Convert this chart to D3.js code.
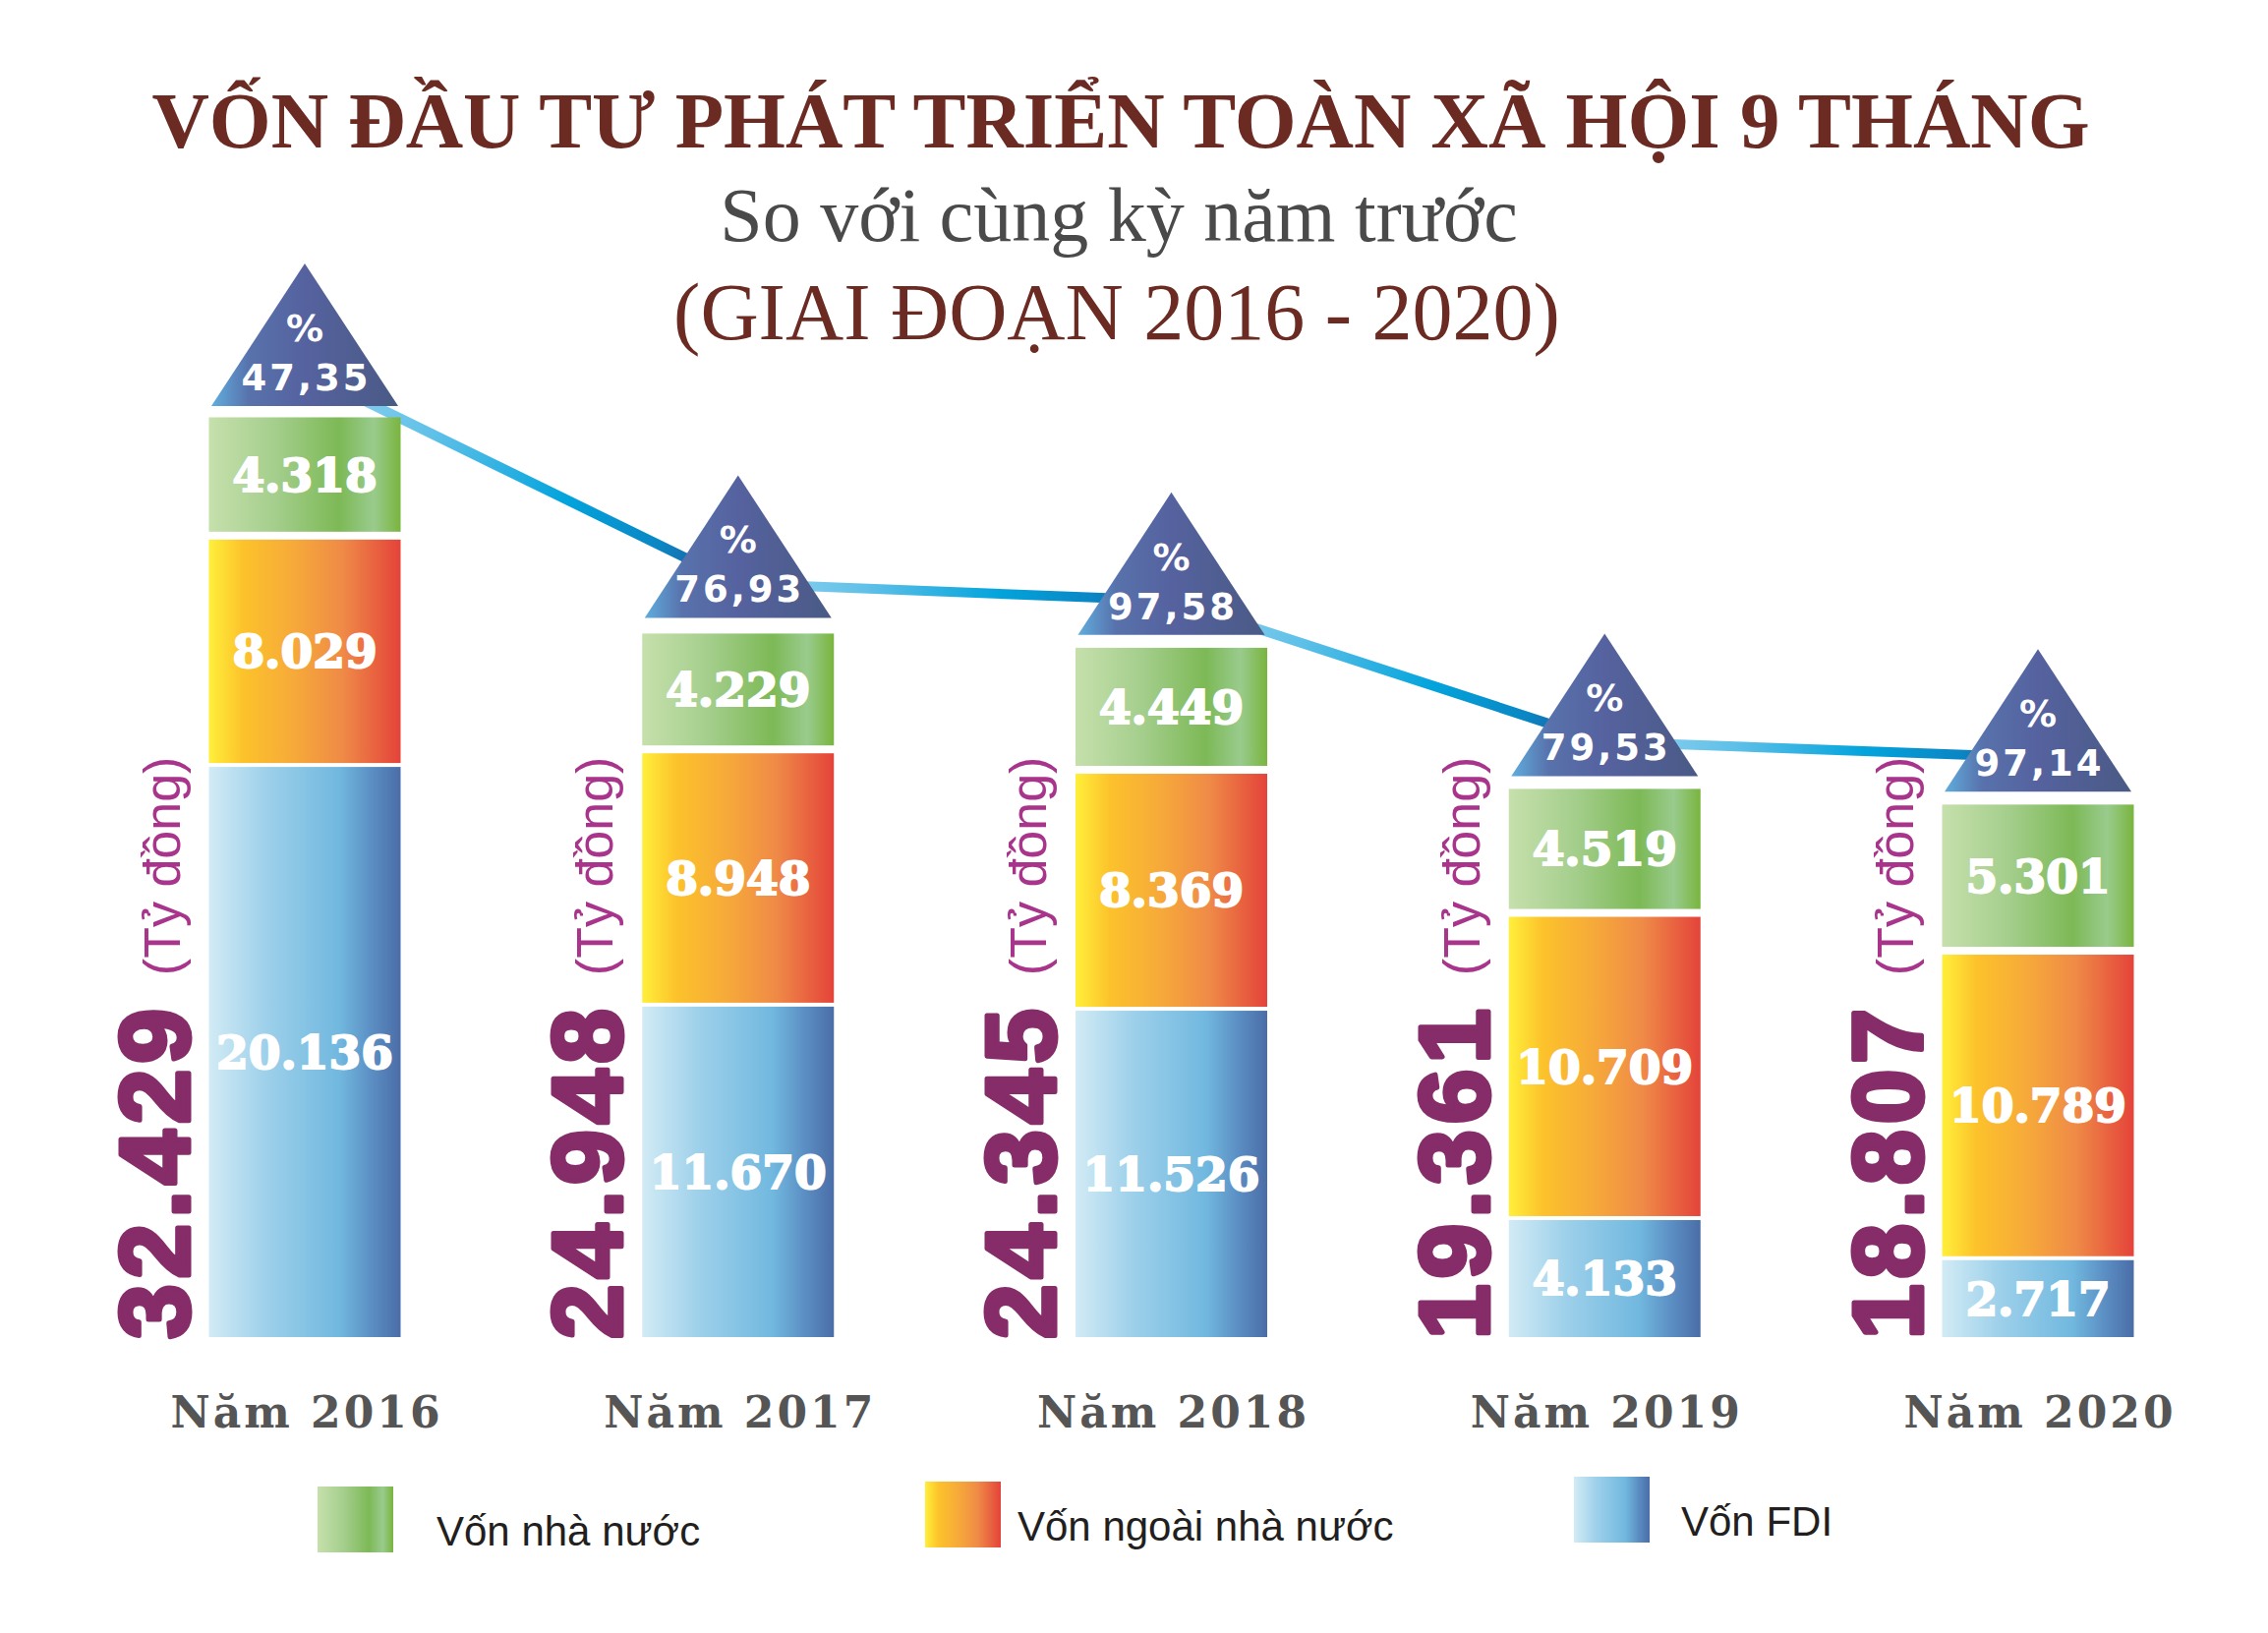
<!DOCTYPE html>
<html>
<head>
<meta charset="utf-8">
<script src="https://cdn.jsdelivr.net/npm/d3@7"></script>
<style>
  html, body { margin: 0; padding: 0; background: #fff; }
  svg { display: block; }
</style>
</head>
<body>
<svg id="chart"></svg>
<script>
// data (tỷ đồng)
const years = ["Năm 2016", "Năm 2017", "Năm 2018", "Năm 2019", "Năm 2020"];
const stateCapital = [4318, 4229, 4449, 4519, 5301];
const nonStateCapital = [8029, 8948, 8369, 10709, 10789];
const fdiCapital = [20136, 11670, 11526, 4133, 2717];
const totals = [32429, 24948, 24345, 19361, 18807];
const growthPct = [47.35, 76.93, 97.58, 79.53, 97.14];
const seriesKeys = ["fdi", "nonState", "state"];
const seriesNames = ["Vốn nhà nước", "Vốn ngoài nhà nước", "Vốn FDI"];
const unitLabel = "(Tỷ đồng)";

const titleText = "VỐN ĐẦU TƯ PHÁT TRIỂN TOÀN XÃ HỘI 9 THÁNG";
const subtitleText = "So với cùng kỳ năm trước";
const periodText = "(GIAI ĐOẠN 2016 - 2020)";

const W = 2307, H = 1661;
const baseY = 1360;
const barW = 195;

const vi = d3.formatLocale({ decimal: ",", thousands: ".", grouping: [3], currency: ["", " đ"] });
const fmtInt = vi.format(",d");
const fmtPct = vi.format(",.2f");

const table = years.map((yr, i) => ({
    year: yr,
    state: stateCapital[i],
    nonState: nonStateCapital[i],
    fdi: fdiCapital[i],
    total: totals[i],
    pct: growthPct[i]
}));

const svg = d3.select("#chart").attr("width", W).attr("height", H);
svg.append("rect").attr("width", W).attr("height", H).attr("fill", "#fff");

const defs = svg.append("defs");

// horizontal gradients for the three series + the triangles
const gradStops = {
    state: [[0, "#c6e0ac"], [0.35, "#a4ce8c"], [0.68, "#7db956"], [0.86, "#99cb8d"], [1, "#79b53e"]],
    nonState: [[0, "#ffef3a"], [0.18, "#fcc22b"], [0.45, "#f6a93a"], [0.7, "#ef8a47"], [1, "#e4433a"]],
    fdi: [[0, "#d2ebf5"], [0.3, "#9dd0ea"], [0.68, "#71b8df"], [0.85, "#5b8ec3"], [1, "#4a6da7"]],
    tri: [[0, "#60addd"], [0.2, "#5872ac"], [0.5, "#55629f"], [1, "#4a5a85"]]
};
Object.keys(gradStops).forEach(k => {
    const g = defs.append("linearGradient")
        .attr("id", "grad-" + k)
        .attr("x1", "0%").attr("y1", "0%").attr("x2", "100%").attr("y2", "0%");
    gradStops[k].forEach(s => g.append("stop").attr("offset", s[0]).attr("stop-color", s[1]));
});

// scales
const x = d3.scalePoint().domain(years).range([310, 2073]);
const y = d3.scaleLinear().domain([0, 34000]).range([baseY, baseY - 34000 * 0.0288]);

const stacked = d3.stack().keys(seriesKeys)(table);

// ---- titles
svg.append("text")
    .attr("x", 1140).attr("y", 150)
    .attr("text-anchor", "middle")
    .attr("font-family", "Liberation Serif, Times New Roman, serif")
    .attr("font-weight", "bold")
    .attr("font-size", 80)
    .attr("fill", "#6b2a22")
    .attr("textLength", 1971)
    .attr("lengthAdjust", "spacingAndGlyphs")
    .text(titleText);

svg.append("text")
    .attr("x", 1138).attr("y", 245)
    .attr("text-anchor", "middle")
    .attr("font-family", "Liberation Serif, Times New Roman, serif")
    .attr("font-size", 78)
    .attr("fill", "#4a4a4a")
    .text(subtitleText);

svg.append("text")
    .attr("x", 1136).attr("y", 345)
    .attr("text-anchor", "middle")
    .attr("font-family", "Liberation Serif, Times New Roman, serif")
    .attr("font-size", 82)
    .attr("fill", "#6b2a22")
    .text(periodText);

// ---- triangle geometry
const triGap = 13, triH = 145, triW = 190;
const triBase = d => y(d.total) - triGap;

// ---- connecting line (drawn first so triangles sit on top)
const linePts = table.map(d => [x(d.year), triBase(d) - 35]);
const lineG = svg.append("g").attr("class", "trend");
d3.pairs(linePts).forEach((p, i) => {
    const gid = "line-grad-" + i;
    const lg = defs.append("linearGradient")
        .attr("id", gid)
        .attr("gradientUnits", "userSpaceOnUse")
        .attr("x1", p[0][0]).attr("y1", p[0][1])
        .attr("x2", p[1][0]).attr("y2", p[1][1]);
    [[0, "#9ad5f0"], [0.3, "#5fc0e8"], [0.6, "#03a4dc"], [0.82, "#0a86c4"], [1, "#2b4a8c"]]
        .forEach(s => lg.append("stop").attr("offset", s[0]).attr("stop-color", s[1]));
    lineG.append("path")
        .attr("d", d3.line()(p))
        .attr("fill", "none")
        .attr("stroke", `url(#${gid})`)
        .attr("stroke-width", 10)
        .attr("stroke-linecap", "round");
});

// ---- stacked bars (white gap under each upper segment)
const segGaps = { fdi: 0, nonState: 4, state: 8 };
const barsG = svg.append("g").attr("class", "bars");
stacked.forEach(layer => {
    const key = layer.key;
    const gap = segGaps[key];
    const g = barsG.append("g").attr("class", "series-" + key);
    g.selectAll("rect")
        .data(layer)
        .join("rect")
        .attr("x", d => x(d.data.year) - barW / 2)
        .attr("y", d => y(d[1]))
        .attr("width", barW)
        .attr("height", d => y(d[0]) - y(d[1]) - gap)
        .attr("fill", `url(#grad-${key})`);

    g.selectAll("text")
        .data(layer)
        .join("text")
        .attr("x", d => x(d.data.year))
        .attr("y", d => (y(d[1]) + y(d[0]) - gap) / 2)
        .attr("dy", "0.36em")
        .attr("text-anchor", "middle")
        .attr("font-family", "DejaVu Serif, serif")
        .attr("font-weight", "bold")
        .attr("font-size", 47)
        .attr("fill", "#fff")
        .attr("stroke", "#fff")
        .attr("stroke-width", 2)
        .text(d => fmtInt(d.data[key]));
});

// ---- triangles with growth %
const triG = svg.append("g").attr("class", "triangles")
    .selectAll("g")
    .data(table)
    .join("g")
    .attr("transform", d => `translate(${x(d.year)},${triBase(d)})`);

triG.append("path")
    .attr("d", `M${-triW / 2},0L0,${-triH}L${triW / 2},0Z`)
    .attr("fill", "url(#grad-tri)");

triG.append("text")
    .attr("y", -66)
    .attr("text-anchor", "middle")
    .attr("font-family", "DejaVu Sans, sans-serif")
    .attr("font-weight", "bold")
    .attr("font-size", 38)
    .attr("fill", "#fff")
    .text("%");

triG.append("text")
    .attr("x", 1.5)
    .attr("y", -16)
    .attr("text-anchor", "middle")
    .attr("font-family", "DejaVu Sans, sans-serif")
    .attr("font-weight", "bold")
    .attr("font-size", 37)
    .attr("letter-spacing", 3)
    .attr("fill", "#fff")
    .text(d => fmtPct(d.pct));

// ---- vertical totals + unit
const totalG = svg.append("g").attr("class", "totals")
    .selectAll("g")
    .data(table)
    .join("g");

totalG.append("text")
    .attr("class", "total")
    .attr("transform", d => `translate(${x(d.year) - barW / 2 - 21},${baseY + 2}) rotate(-90)`)
    .attr("font-family", "Liberation Sans, Arial, sans-serif")
    .attr("font-weight", "bold")
    .attr("font-size", 100)
    .attr("letter-spacing", 6)
    .attr("fill", "#862c68")
    .attr("stroke", "#862c68")
    .attr("stroke-width", 5)
    .attr("stroke-linejoin", "round")
    .text(d => fmtInt(d.total));

totalG.each(function(d) {
    const g = d3.select(this);
    const len = g.select("text.total").node().getComputedTextLength();
    g.append("text")
        .attr("transform", `translate(${x(d.year) - barW / 2 - 30},${baseY + 2 - len - 28}) rotate(-90)`)
        .attr("font-family", "Liberation Sans, Arial, sans-serif")
        .attr("font-size", 52)
        .attr("fill", "#a8358b")
        .text(unitLabel);
});

// ---- year labels
svg.append("g").attr("class", "years")
    .selectAll("text")
    .data(table)
    .join("text")
    .attr("x", d => x(d.year) + 2)
    .attr("y", 1452)
    .attr("text-anchor", "middle")
    .attr("font-family", "DejaVu Serif, serif")
    .attr("font-weight", "bold")
    .attr("font-size", 44)
    .attr("letter-spacing", 3)
    .attr("fill", "#555555")
    .text(d => d.year);

// ---- legend
const legendKeys = ["state", "nonState", "fdi"];
const legendX = d3.scaleOrdinal().domain(legendKeys).range([323, 941, 1601]);
const legendTextDx = d3.scaleOrdinal().domain(legendKeys).range([121, 94, 109]);
const legend = svg.append("g").attr("class", "legend")
    .selectAll("g")
    .data(legendKeys)
    .join("g")
    .attr("transform", (k, i) => `translate(${legendX(k)},${1512 - i * 5})`);

legend.append("rect")
    .attr("width", 77)
    .attr("height", 67)
    .attr("fill", k => `url(#grad-${k})`);

legend.append("text")
    .attr("x", k => legendTextDx(k))
    .attr("y", 60)
    .attr("font-family", "Liberation Sans, Arial, sans-serif")
    .attr("font-size", 42)
    .attr("fill", "#231f20")
    .text((k, i) => seriesNames[i]);
</script>
</body>
</html>
